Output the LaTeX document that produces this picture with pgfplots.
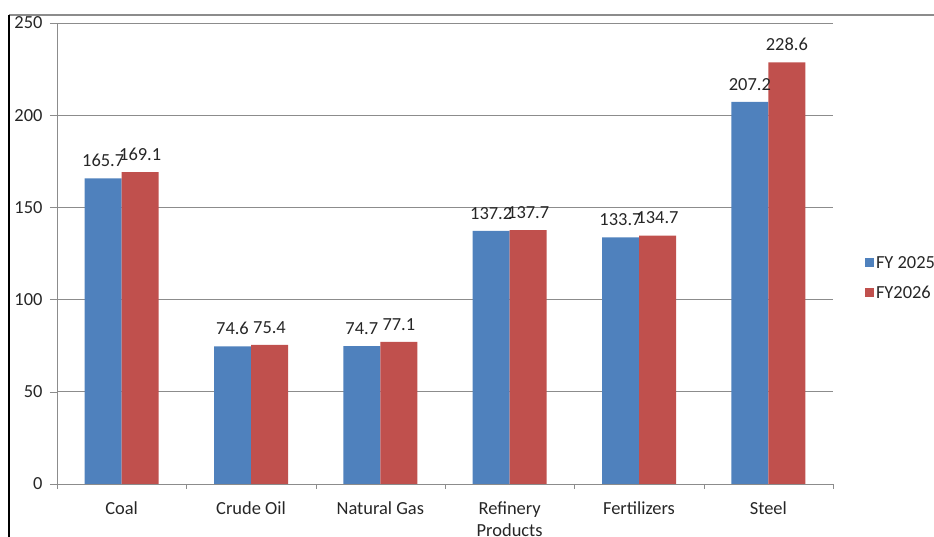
\documentclass[border=0pt]{standalone}
\usepackage{pgfplots}
\pgfplotsset{compat=1.18}
\usepackage{fontspec}
\setmainfont{Carlito}
\definecolor{cblue}{HTML}{4F81BD}
\definecolor{cred}{HTML}{C0504D}
\definecolor{gridc}{HTML}{8C8C8C}
\begin{document}
\begin{tikzpicture}[x=1bp,y=1bp]
\clip (0,0) rectangle (934,537);
\useasboundingbox (0,0) rectangle (934,537);
\draw[gridc, line width=1.5bp] (9,522) -- (934,522);
\draw[black, line width=1.2bp] (9,522) -- (9,0);
\begin{axis}[
  at={(57bp,53bp)}, anchor=south west,
  scale only axis, width=776bp, height=461bp,
  ybar=0pt, bar width=37bp,
  xmin=-0.5, xmax=5.5, ymin=0, ymax=250,
  ytick={0,50,...,250},
  xtick={0,...,5},
  xticklabels={Coal,Crude Oil,Natural Gas,{Refinery\\Products},Fertilizers,Steel},
  xticklabel style={align=center, font=\fontsize{18.5}{22}\selectfont, text=black!85, yshift=-7bp},
  yticklabel style={font=\fontsize{18.5}{22}\selectfont, text=black!85, xshift=-4bp},
  /pgf/number format/assume math mode=true,
  major x tick style={draw=none},
  minor xtick={-0.5,0.5,...,5.5},
  minor tick length=5bp,
  major tick length=7bp,
  tick align=outside,
  ymajorgrids, grid style={gridc, line width=0.6bp},
  axis x line*=bottom, axis y line*=left,
  axis line style={gridc, line width=0.8bp, -},
  y tick style={gridc}, minor x tick style={gridc},
  nodes near coords,
  nodes near coords style={font=\fontsize{18.5}{22}\selectfont, text=black!85, anchor=south, yshift=8bp},
  every node near coord/.append style={/pgf/number format/fixed, /pgf/number format/fixed zerofill, /pgf/number format/precision=1, /pgf/number format/assume math mode=true},
  legend style={at={(1.041,0.447)}, anchor=west, draw=none, font=\fontsize{18.5}{22}\selectfont, text=black!85, row sep=12bp, fill=none, inner sep=0pt, nodes={inner sep=2bp, xshift=4bp}},
  legend cell align=left,
  legend image code/.code={\fill[#1] (0bp,-4.5bp) rectangle (9bp,4.5bp);},
]
\addplot[fill=cblue, draw=none] coordinates {(0,165.7) (1,74.6) (2,74.7) (3,137.2) (4,133.7) (5,207.2)};
\addplot[fill=cred, draw=none] coordinates {(0,169.1) (1,75.4) (2,77.1) (3,137.7) (4,134.7) (5,228.6)};
\legend{FY 2025,FY2026}
\end{axis}
\end{tikzpicture}
\end{document}
